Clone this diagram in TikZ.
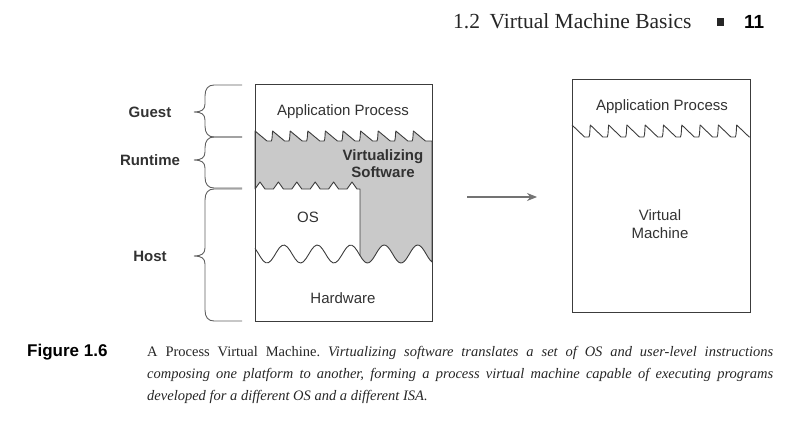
\documentclass[tikz,border=0pt]{standalone}
\usepackage{fontspec}
\setmainfont{Liberation Serif}
\setsansfont{Liberation Sans}
\usetikzlibrary{arrows.meta}
\definecolor{inkgray}{RGB}{50,50,50}
\definecolor{shadegray}{RGB}{201,201,201}
\definecolor{linegray}{RGB}{60,60,60}
\definecolor{bracegray}{RGB}{95,95,95}
\definecolor{arrowgray}{RGB}{115,115,115}
\frenchspacing

\begin{document}
\begin{tikzpicture}
	[x=1pt, y=-1pt,
	 txt/.style={font=\sffamily\fontsize{15}{18}\selectfont, text=inkgray, align=center, inner sep=0pt},
	 lbl/.style={font=\sffamily\bfseries\fontsize{15}{17}\selectfont, text=inkgray, align=center, inner sep=0pt},
	 boxline/.style={draw=linegray, line width=0.9pt}]
	\useasboundingbox (0,0) rectangle (787,428);

	\filldraw [boxline, fill=shadegray, line join=round]
		(255,131)
		\foreach \i [evaluate=\i as \px using 255+17.6*\i] in {0,...,8}
			{ -- (\px+12,141) -- (\px+16.4,141) .. controls (\px+17.4,139) and (\px+17.2,133) .. (\px+17.6,131) }
		-- (425.4,141) -- (432,141) -- (432,262)
		-- plot [domain=432:360, samples=40] (\x, {254+9*cos((\x-267)/33.5*360)})
		-- (360,189)
		\foreach \k [evaluate=\k as \hx using 352-18.4*\k] in {0,...,5}
			{ -- (\hx+5,189) -- (\hx,182) -- (\hx-5,189) }
		-- (255,189) -- cycle;
	\draw [boxline] plot [domain=255:360, samples=40] (\x, {254+9*cos((\x-267)/33.5*360)});
	\node [boxline, minimum width=177pt, minimum height=237pt, anchor=north west, inner sep=0pt] (hostbox) at (255,84) {};

	\draw [boxline, line join=round]
		(572,125)
		\foreach \i [evaluate=\i as \px using 572+18.3*\i] in {0,...,8}
			{ -- (\px+12.5,137) -- (\px+17,137) .. controls (\px+18.1,135) and (\px+17.9,127) .. (\px+18.3,125) }
		-- (749.2,137) -- (750,137);
	\node [boxline, minimum width=178pt, minimum height=233pt, anchor=north west, inner sep=0pt] (vmbox) at (572,79) {};

	\foreach \t/\m/\b/\nm/\lb in {85/112/137/guest/Guest, 137/160/188/runtime/Runtime, 189/256/321/host/Host}
	{
		\draw [draw=bracegray, line width=0.9pt] (242,\t) -- (214,\t) .. controls (208,\t) and (205,\t+4) .. (205,\t+11)
			-- (205,\m-8) .. controls (205,\m-2) and (201,\m) .. (194,\m)
			.. controls (201,\m) and (205,\m+2) .. (205,\m+8)
			-- (205,\b-11) .. controls (205,\b-4) and (208,\b) .. (214,\b) -- (242,\b);
		\node [lbl] (\nm) at (150,\m) {\lb};
	}

	\node [txt] (app) at (343,112) {Application Process};
	\node [lbl] (virt) at (383,163.5) {Virtualizing\\Software};
	\node [txt] (os) at (308,217) {OS};
	\node [txt] (hw) at (343,298) {Hardware};
	\node [txt] (app2) at (662,107) {Application Process};
	\node [txt] (vm) at (660,224) {Virtual\\Machine};

	\coordinate (arrL) at (467,197);
	\coordinate (arrR) at (537,197);
	\draw [arrowgray, line width=1.1pt, -{Stealth[length=10pt, width=8pt]}] (arrL) -- (arrR);

	\node [anchor=base west, inner sep=0pt, font=\fontsize{21.5}{24}\selectfont, text=black!85] (runhead) at (453,29) {1.2\hspace{0.45em}Virtual Machine Basics};
	\node [fill=black!85, minimum width=7pt, minimum height=8pt, inner sep=0pt] (headsq) at (720,22.5) {};
	\node [anchor=base west, inner sep=0pt, font=\sffamily\bfseries\fontsize{19}{20}\selectfont] (pagenum) at (744,29) {11};

	\node [anchor=base west, inner sep=0pt, font=\sffamily\bfseries\fontsize{17}{20}\selectfont] (figlabel) at (27,356) {Figure 1.6};
	\node [anchor=north west, inner sep=0pt, align=left, font=\fontsize{14.5}{22}\selectfont, text=black!85] (figcap) at (147,346)
		{\makebox[626pt][s]{A Process Virtual Machine. \textit{Virtualizing software translates a set of OS and user-level instructions}}\\
		 \makebox[626pt][s]{\textit{composing one platform to another, forming a process virtual machine capable of executing programs}}\\
		 \textit{developed for a different OS and a different ISA.}};
\end{tikzpicture}
\end{document}
